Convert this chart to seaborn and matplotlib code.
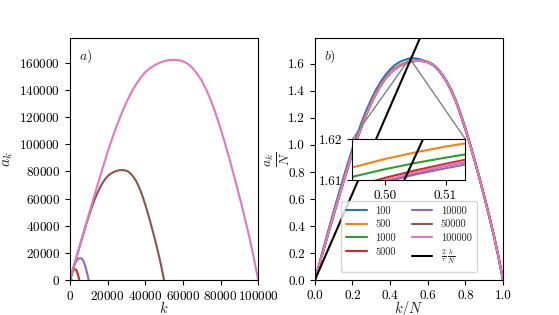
import numpy as np
import pandas as pd
import matplotlib
matplotlib.use("Agg")
import matplotlib.pyplot as plt
import seaborn as sns
from mpl_toolkits.axes_grid1.inset_locator import mark_inset

# ---------------- data ----------------
sizes = [100, 500, 1000, 5000, 10000, 50000, 100000]
labels = ["100", "500", "1000", "5000", "10000", "50000", "100000"]

# normalised position k/N at which the curves were read
x_norm = [0, 0.025, 0.05, 0.075, 0.1, 0.125, 0.15, 0.175, 0.2, 0.225, 0.25, 0.275,
          0.3, 0.325, 0.35, 0.375, 0.4, 0.425, 0.45, 0.475, 0.49, 0.495, 0.5, 0.505,
          0.51, 0.515, 0.52, 0.53, 0.54, 0.55, 0.56, 0.575, 0.6, 0.625, 0.65, 0.675,
          0.7, 0.725, 0.75, 0.775, 0.8, 0.825, 0.85, 0.875, 0.9, 0.925, 0.95, 0.975, 1.0]

# a_k / N for each N
y_100 = [0, 0.128, 0.256, 0.382, 0.507, 0.628, 0.746, 0.861, 0.972, 1.076, 1.172, 1.259,
         1.337, 1.406, 1.465, 1.515, 1.556, 1.588, 1.611, 1.626, 1.6325, 1.6345, 1.636, 1.6372,
         1.638, 1.6385, 1.6388, 1.6385, 1.637, 1.634, 1.630, 1.6225, 1.611, 1.594, 1.565, 1.523,
         1.470, 1.405, 1.325, 1.229, 1.122, 1.006, 0.884, 0.756, 0.623, 0.485, 0.340, 0.180, 0]
y_500 = [0, 0.123, 0.246, 0.368, 0.490, 0.608, 0.725, 0.839, 0.949, 1.053, 1.149, 1.237,
         1.316, 1.386, 1.446, 1.495, 1.536, 1.565, 1.587, 1.6025, 1.6110, 1.6133, 1.6152, 1.6168,
         1.6182, 1.6194, 1.6206, 1.6225, 1.6238, 1.6244, 1.6243, 1.6225, 1.6125, 1.5945, 1.5645, 1.5215,
         1.4685, 1.401, 1.320, 1.224, 1.117, 1.002, 0.880, 0.752, 0.620, 0.482, 0.337, 0.177, 0]
y_1000 = [0, 0.122, 0.244, 0.365, 0.486, 0.604, 0.720, 0.834, 0.944, 1.048, 1.144, 1.232,
          1.311, 1.381, 1.441, 1.492, 1.533, 1.562, 1.584, 1.6000, 1.6087, 1.6110, 1.6127, 1.6142,
          1.6155, 1.6167, 1.6179, 1.6200, 1.6213, 1.6218, 1.6216, 1.6195, 1.6110, 1.5930, 1.5630, 1.5205,
          1.4675, 1.400, 1.319, 1.223, 1.116, 1.001, 0.879, 0.751, 0.619, 0.481, 0.336, 0.176, 0]
y_5000 = [0, 0.121, 0.242, 0.362, 0.482, 0.600, 0.716, 0.830, 0.940, 1.044, 1.140, 1.228,
          1.307, 1.377, 1.437, 1.488, 1.530, 1.559, 1.581, 1.5982, 1.6062, 1.6085, 1.6106, 1.6124,
          1.6140, 1.6155, 1.6168, 1.6188, 1.6199, 1.6203, 1.6199, 1.6178, 1.6102, 1.5922, 1.5622, 1.5202,
          1.467, 1.399, 1.318, 1.222, 1.115, 1.000, 0.878, 0.750, 0.618, 0.480, 0.335, 0.175, 0]
y_10000 = [0, 0.121, 0.242, 0.362, 0.482, 0.600, 0.716, 0.830, 0.940, 1.044, 1.140, 1.228,
           1.307, 1.377, 1.437, 1.488, 1.530, 1.559, 1.581, 1.5972, 1.6052, 1.6075, 1.6096, 1.6114,
           1.6129, 1.6143, 1.6156, 1.6177, 1.6190, 1.6195, 1.6192, 1.6172, 1.6098, 1.5920, 1.5620, 1.5200,
           1.467, 1.399, 1.318, 1.222, 1.115, 1.000, 0.878, 0.750, 0.618, 0.480, 0.335, 0.175, 0]
y_50000 = [0, 0.121, 0.242, 0.362, 0.482, 0.600, 0.716, 0.830, 0.940, 1.044, 1.140, 1.228,
           1.307, 1.377, 1.437, 1.488, 1.530, 1.559, 1.581, 1.5975, 1.6055, 1.6078, 1.6099, 1.6118,
           1.6135, 1.6149, 1.6162, 1.6183, 1.6195, 1.6200, 1.6196, 1.6175, 1.6100, 1.5920, 1.5620, 1.5200,
           1.467, 1.399, 1.318, 1.222, 1.115, 1.000, 0.878, 0.750, 0.618, 0.480, 0.335, 0.175, 0]
y_100000 = [0, 0.121, 0.242, 0.362, 0.482, 0.600, 0.716, 0.830, 0.940, 1.044, 1.140, 1.228,
            1.307, 1.377, 1.437, 1.488, 1.530, 1.559, 1.581, 1.5975, 1.6056, 1.6079, 1.6100, 1.6119,
            1.6136, 1.6151, 1.6164, 1.6184, 1.6196, 1.6200, 1.6196, 1.6175, 1.6100, 1.5920, 1.5620, 1.5200,
            1.467, 1.399, 1.318, 1.222, 1.115, 1.000, 0.878, 0.750, 0.618, 0.480, 0.335, 0.175, 0]
series_norm = [y_100, y_500, y_1000, y_5000, y_10000, y_50000, y_100000]

# reference line (2/tau) k/N
ref_x = [0.0, 1.0]
ref_y = [0.0, 3.2]

# ---------------- style ----------------
sns.set_theme(style="ticks")
plt.rcParams.update({
    "font.family": "serif",
    "font.serif": ["cmr10", "DejaVu Serif"],
    "mathtext.fontset": "cm",
    "axes.formatter.use_mathtext": True,
    "axes.unicode_minus": False,
    "font.size": 10,
    "axes.labelsize": 10,
    "xtick.labelsize": 9.5,
    "ytick.labelsize": 9.5,
    "axes.edgecolor": "black",
    "axes.linewidth": 0.8,
    "xtick.color": "black",
    "ytick.color": "black",
    "xtick.major.size": 3.5,
    "ytick.major.size": 3.5,
    "xtick.major.width": 0.8,
    "ytick.major.width": 0.8,
    "axes.grid": False,
})

palette = sns.color_palette("tab10", len(sizes))

fig, (ax1, ax2) = plt.subplots(1, 2, figsize=(5.59, 3.15), dpi=100)
fig.subplots_adjust(left=0.125, right=0.9, bottom=0.11, top=0.88, wspace=0.3)

rows = []
for n, lab, ys in zip(sizes, labels, series_norm):
    for xv, yv in zip(x_norm, ys):
        rows.append({"N": lab, "n": n, "x": xv, "y": yv,
                     "k": xv * n, "a": yv * n})
df = pd.DataFrame(rows)

# ---------------- panel a ----------------
sns.lineplot(data=df, x="k", y="a", hue="N", hue_order=labels, palette=palette,
             ax=ax1, legend=False, linewidth=1.5, sort=False, estimator=None)
ax1.set_xlim(0, 100000)
ax1.set_ylim(0, 1.1 * max(y_100000) * 100000)
ax1.set_xticks([0, 20000, 40000, 60000, 80000, 100000])
ax1.set_yticks([0, 20000, 40000, 60000, 80000, 100000, 120000, 140000, 160000])
ax1.set_xlabel(r"$k$", labelpad=-2, fontsize=10.5)
ax1.set_ylabel(r"$a_k$", fontsize=11, labelpad=3)
ax1.text(0.05, 0.91, r"$a)$", transform=ax1.transAxes, fontsize=10)

# ---------------- panel b ----------------
sns.lineplot(data=df, x="x", y="y", hue="N", hue_order=labels, palette=palette,
             ax=ax2, linewidth=1.5, sort=False, estimator=None)
sns.lineplot(x=ref_x, y=ref_y, color="black", linewidth=1.5, ax=ax2,
             label=r"$\frac{2}{\tau}\,\frac{k}{N}$")
ax2.set_xlim(0, 1)
ax2.set_ylim(0, 1.79)
ax2.set_xticks([0.0, 0.2, 0.4, 0.6, 0.8, 1.0])
ax2.set_yticks([0.0, 0.2, 0.4, 0.6, 0.8, 1.0, 1.2, 1.4, 1.6])
ax2.xaxis.set_major_formatter(matplotlib.ticker.FormatStrFormatter("%.1f"))
ax2.yaxis.set_major_formatter(matplotlib.ticker.FormatStrFormatter("%.1f"))
ax2.set_xlabel(r"$k/N$", labelpad=-2, fontsize=10.5)
ax2.set_ylabel(r"$\frac{a_k}{N}$", labelpad=-3, fontsize=14)
ax2.text(0.05, 0.91, r"$b)$", transform=ax2.transAxes, fontsize=10)
ax2.legend(ncol=2, loc="lower center", fontsize=7.5, handlelength=2.0,
           columnspacing=1.5, borderpad=0.5, labelspacing=0.4,
           bbox_to_anchor=(0.5, 0.015))

# inset
axins = ax2.inset_axes([0.2, 0.413, 0.6, 0.169])
sns.lineplot(data=df, x="x", y="y", hue="N", hue_order=labels, palette=palette,
             ax=axins, legend=False, linewidth=1.5, sort=False, estimator=None)
sns.lineplot(x=ref_x, y=ref_y, color="black", linewidth=1.5, ax=axins, legend=False)
axins.set_xlim(0.4945, 0.5133)
axins.set_ylim(1.61, 1.62)
axins.set_xticks([0.50, 0.51])
axins.set_yticks([1.61, 1.62])
axins.xaxis.set_major_formatter(matplotlib.ticker.FormatStrFormatter("%.2f"))
axins.yaxis.set_major_formatter(matplotlib.ticker.FormatStrFormatter("%.2f"))
axins.set_xlabel("")
axins.set_ylabel("")
axins.set_facecolor("white")
mark_inset(ax2, axins, loc1=1, loc2=2, fc="none", ec="0.5", lw=1.0)

fig.savefig("out.png", dpi=100)
